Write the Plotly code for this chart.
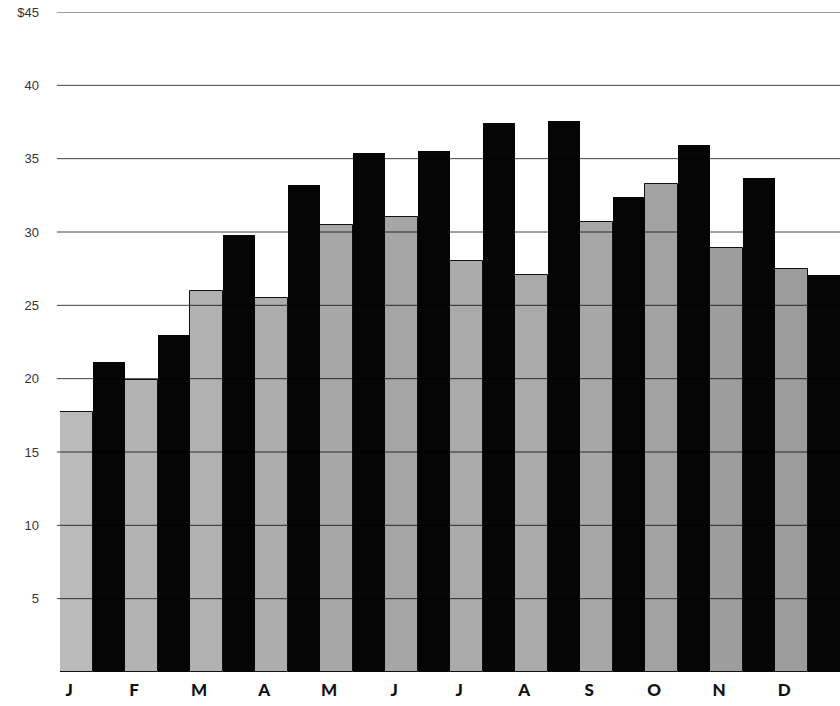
import plotly.graph_objects as go

# Monthly values in dollars
months = ["J", "F", "M", "A", "M", "J", "J", "A", "S", "O", "N", "D"]
gray_values = [17.75, 19.9, 26.0, 25.5, 30.5, 31.0, 28.0, 27.1, 30.7, 33.3, 28.9, 27.45]
black_values = [21.15, 23.0, 29.8, 33.2, 35.4, 35.5, 37.4, 37.6, 32.4, 35.9, 33.65, 27.05]

# Y-axis gridline values and their labels
grid_values = [5, 10, 15, 20, 25, 30, 35, 40, 45]
grid_labels = ["5", "10", "15", "20", "25", "30", "35", "40", "$45"]

# Fill shades for the lighter series (one per month)
gray_shades = ["#bababa", "#b3b3b3", "#b1b1b1", "#adadad", "#a7a7a7", "#a5a5a5",
               "#aaaaaa", "#aaaaaa", "#a7a7a7", "#a2a2a2", "#9d9d9d", "#9c9c9c"]

x_pos = list(range(len(months)))

fig = go.Figure()
fig.add_trace(go.Bar(
    x=x_pos, y=gray_values,
    marker=dict(color=gray_shades, line=dict(color="#111111", width=1)),
    showlegend=False, hoverinfo="skip",
))
fig.add_trace(go.Bar(
    x=x_pos, y=black_values,
    marker=dict(color="#050505", line=dict(width=0)),
    showlegend=False, hoverinfo="skip",
))

# Rules drawn over the bars: they show across the light bars and vanish on the dark ones
for v in grid_values:
    fig.add_shape(type="line", xref="paper", yref="y",
                  x0=-0.004, x1=1.0, y0=v, y1=v,
                  line=dict(color="rgba(0,0,0,0.75)", width=1), layer="above")

fig.update_layout(
    width=840, height=706,
    margin=dict(l=60, r=0, t=12, b=34),
    paper_bgcolor="white", plot_bgcolor="white",
    barmode="group", bargap=0, bargroupgap=0,
    font=dict(family="Liberation Sans, Arial, sans-serif", color="#222222"),
)
fig.update_xaxes(
    range=[-0.5, 11.5],
    tickvals=[i - 0.36 for i in x_pos], ticktext=months,
    tickfont=dict(family="Lato, Arial Black, sans-serif", size=17, color="#111111", weight=900),
    showgrid=False, zeroline=False, showline=False, ticks="",
    ticklabelstandoff=6,
)
fig.update_yaxes(
    range=[0, 45],
    tickvals=grid_values, ticktext=grid_labels,
    tickfont=dict(size=13, color="#333333"),
    showgrid=False, zeroline=False, showline=False, ticks="",
    ticklabelstandoff=20,
)

fig.write_html("out.html")
